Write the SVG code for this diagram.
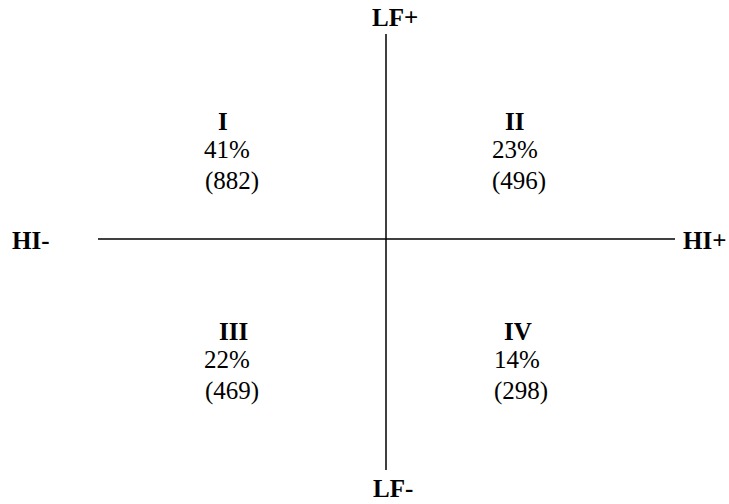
<svg xmlns="http://www.w3.org/2000/svg" width="729" height="504" viewBox="0 0 729 504">
<style>
.b{font-weight:bold;font-size:25px}
.r{font-size:25px}
line{stroke:#000;stroke-width:1.5}
</style>
<rect width="729" height="504" fill="#fff"/>
<g id="connectors">
<line x1="386" y1="34" x2="386" y2="470"/>
<line x1="98" y1="239" x2="675" y2="239"/>
</g>
<g font-family="'Liberation Serif', 'Times New Roman', Times, serif" fill="#000">
<g id="axis-labels">
<text class="b" x="372" y="26">LF+</text>
<text class="b" x="373" y="497">LF-</text>
<text class="b" x="12" y="249">HI-</text>
<text class="b" x="683" y="249">HI+</text>
</g>
<g id="q1">
<text class="b" x="218" y="130">I</text>
<text class="r" x="204" y="158">41%</text>
<text class="r" x="205" y="189">(882)</text>
</g>
<g id="q2">
<text class="b" x="505" y="130">II</text>
<text class="r" x="492" y="158">23%</text>
<text class="r" x="492" y="189">(496)</text>
</g>
<g id="q3">
<text class="b" x="219" y="340">III</text>
<text class="r" x="204" y="368">22%</text>
<text class="r" x="205" y="399">(469)</text>
</g>
<g id="q4">
<text class="b" x="504" y="340">IV</text>
<text class="r" x="494" y="368">14%</text>
<text class="r" x="494" y="399">(298)</text>
</g>
</g>
</svg>
